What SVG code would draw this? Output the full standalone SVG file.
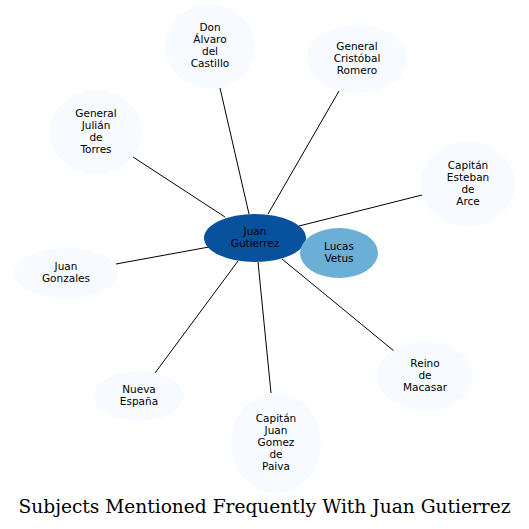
<svg xmlns="http://www.w3.org/2000/svg" width="529" height="529" viewBox="0 0 529 529">
<style>
.lt{fill:#f7fbff}
.edge{stroke:#000;stroke-width:1;fill:none}
text{font-family:"DejaVu Sans",sans-serif;font-size:10.5px;text-anchor:middle;fill:#000}
.title{font-family:"DejaVu Serif",serif;font-size:18.6px}
</style>
<rect width="529" height="529" fill="#fff"/>
<g id="edges">
<line class="edge" x1="249" y1="214" x2="220" y2="88"/>
<line class="edge" x1="268" y1="214" x2="339" y2="91"/>
<line class="edge" x1="225" y1="217" x2="133" y2="157"/>
<line class="edge" x1="299" y1="226" x2="422" y2="195"/>
<line class="edge" x1="209" y1="247" x2="116" y2="264"/>
<line class="edge" x1="282" y1="259" x2="394" y2="351"/>
<line class="edge" x1="238" y1="261" x2="155" y2="373"/>
<line class="edge" x1="258" y1="262" x2="271" y2="393"/>
</g>
<g id="n_gutierrez"><ellipse cx="255" cy="238" rx="51" ry="24" fill="#08519c"/><text x="255" y="235">Juan<tspan x="255" dy="12">Gutierrez</tspan></text></g>
<g id="n_lucas"><ellipse cx="339" cy="253" rx="39" ry="25" fill="#6baed6"/><text x="339" y="250">Lucas<tspan x="339" dy="12">Vetus</tspan></text></g>
<g id="n_alvaro"><ellipse class="lt" cx="210" cy="46.5" rx="45" ry="42"/><text x="210" y="31">Don<tspan x="210" dy="12">Álvaro</tspan><tspan x="210" dy="12">del</tspan><tspan x="210" dy="12">Castillo</tspan></text></g>
<g id="n_cristobal"><ellipse class="lt" cx="357" cy="59" rx="50" ry="34"/><text x="357" y="49.5">General<tspan x="357" dy="12">Cristóbal</tspan><tspan x="357" dy="12">Romero</tspan></text></g>
<g id="n_julian"><ellipse class="lt" cx="96" cy="132" rx="46" ry="42"/><text x="96" y="117">General<tspan x="96" dy="12">Julián</tspan><tspan x="96" dy="12">de</tspan><tspan x="96" dy="12">Torres</tspan></text></g>
<g id="n_esteban"><ellipse class="lt" cx="468" cy="184" rx="47" ry="42"/><text x="468" y="169">Capitán<tspan x="468" dy="12">Esteban</tspan><tspan x="468" dy="12">de</tspan><tspan x="468" dy="12">Arce</tspan></text></g>
<g id="n_gonzales"><ellipse class="lt" cx="66" cy="273" rx="52" ry="25"/><text x="66" y="270">Juan<tspan x="66" dy="12">Gonzales</tspan></text></g>
<g id="n_macasar"><ellipse class="lt" cx="425" cy="376" rx="48" ry="34"/><text x="425" y="367">Reino<tspan x="425" dy="12">de</tspan><tspan x="425" dy="12">Macasar</tspan></text></g>
<g id="n_nueva"><ellipse class="lt" cx="139" cy="396" rx="45" ry="25"/><text x="139" y="393">Nueva<tspan x="139" dy="12">España</tspan></text></g>
<g id="n_paiva"><ellipse class="lt" cx="276" cy="443" rx="45" ry="50"/><text x="276" y="422">Capitán<tspan x="276" dy="12">Juan</tspan><tspan x="276" dy="12">Gomez</tspan><tspan x="276" dy="12">de</tspan><tspan x="276" dy="12">Paiva</tspan></text></g>
<text class="title" x="264.5" y="513">Subjects Mentioned Frequently With Juan Gutierrez</text>
</svg>
